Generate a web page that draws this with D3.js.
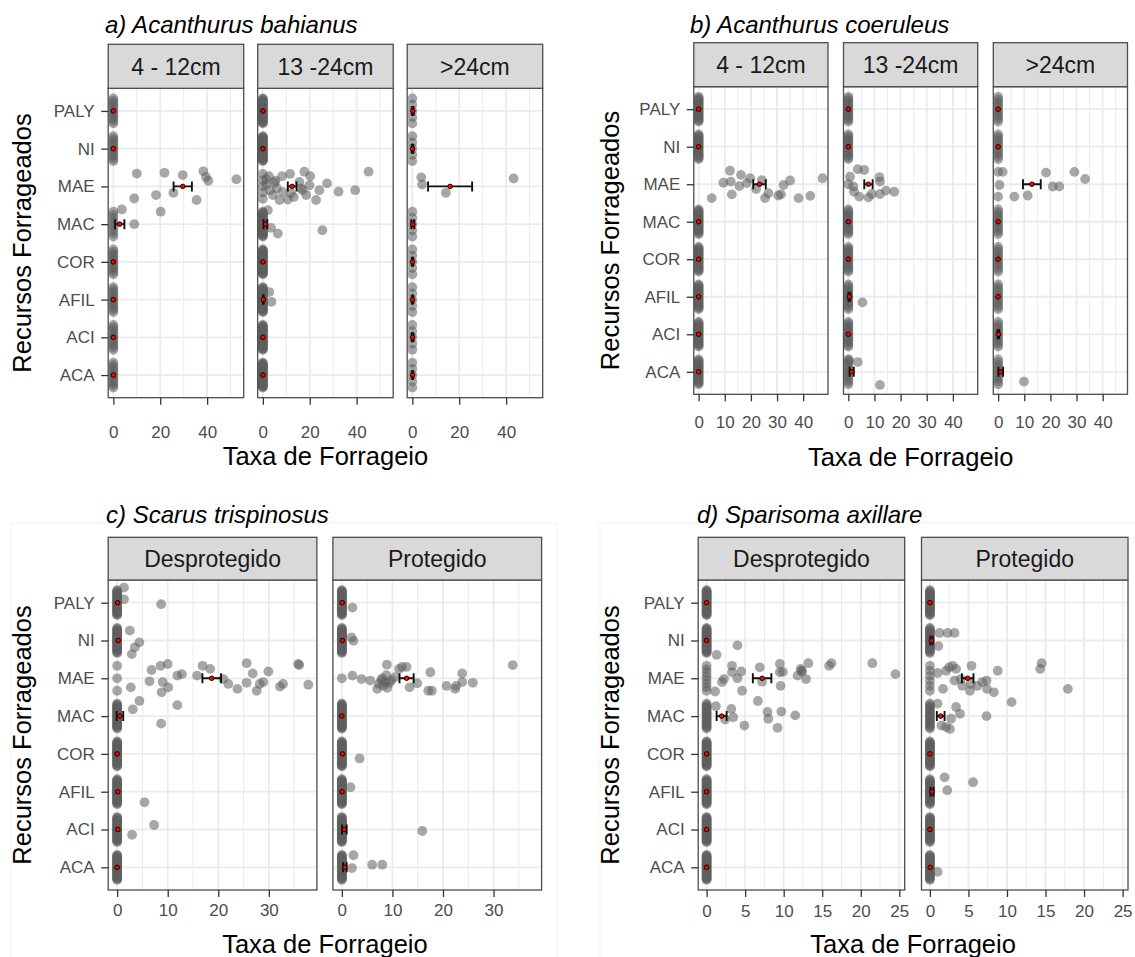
<!DOCTYPE html>
<html>
<head>
<meta charset="utf-8">
<script src="https://cdn.jsdelivr.net/npm/d3@7"></script>
<style>
  body { margin: 0; background: #fff; }
  svg { display: block; }
  text { font-family: "Liberation Sans", Arial, Helvetica, sans-serif; }
</style>
</head>
<body>
<script>
// Foraged resources, bottom to top on the y axis
const resources = ["ACA", "ACI", "AFIL", "COR", "MAC", "MAE", "NI", "PALY"];

const xAxisTitle = "Taxa de Forrageio";
const yAxisTitle = "Recursos Forrageados";

// ---------- a) Acanthurus bahianus ----------
const bahianusSizes = ["4 - 12cm", "13 -24cm", ">24cm"];
const bahianusTicks = [0, 20, 40];
// number of zero-rate observations per resource (ACA..PALY), per size class
const bahianusZeros = [
  [12, 12, 12, 12, 9, 0, 12, 12],
  [33, 33, 31, 33, 29, 5, 33, 33],
  [5, 5, 5, 5, 5, 0, 5, 5]
];
// non-zero observations: [resource, rate, vertical jitter (fraction of a row)]
const bahianusPoints = [
  [
    ["MAE", 10.0, .34], ["MAE", 21.8, .36], ["MAE", 29.6, .30], ["MAE", 38.4, .40], ["MAE", 39.5, .25],
    ["MAE", 40.5, .15], ["MAE", 52.5, .19], ["MAE", 25.6, -.17], ["MAE", 18.2, -.23], ["MAE", 8.9, -.32],
    ["MAE", 35.5, -.36],
    ["MAC", 3.6, .39], ["MAC", 8.9, 0], ["MAC", 20.2, .33]
  ],
  [
    ["MAE", 2.6, .27], ["MAE", 5.4, .15], ["MAE", 8.2, .27], ["MAE", 11.6, .33], ["MAE", 15.6, .12],
    ["MAE", 17.7, .39], ["MAE", 20.2, .27], ["MAE", 45.1, .39], ["MAE", 27.4, .08], ["MAE", 19.9, .03],
    ["MAE", 24.1, -.10], ["MAE", 32.3, -.14], ["MAE", 39.4, -.10], ["MAE", 22.7, -.36], ["MAE", 18.5, -.23],
    ["MAE", 13.2, -.28], ["MAE", 10.6, -.35], ["MAE", 7.1, -.36], ["MAE", 4.3, -.23], ["MAE", 2.9, -.10],
    ["MAE", 1.5, .05], ["MAE", 1.4, .19], ["MAE", 6.0, -.05], ["MAE", 8.5, -.15], ["MAE", 16.3, -.05],
    ["MAE", 12.0, -.18], ["MAE", 17.0, -.10], ["MAE", 5.0, .10],
    ["MAC", 2.1, .37], ["MAC", 6.4, -.25], ["MAC", 25.4, -.16], ["MAC", 3.5, -.10],
    ["AFIL", 2.7, .20], ["AFIL", 3.7, -.06]
  ],
  [
    ["MAE", 3.8, .24], ["MAE", 4.2, .05], ["MAE", 14.3, -.17], ["MAE", 43.2, .21]
  ]
];
const bahianusMean = [
  [0, 0, 0, 0, 2.7, 29.6, 0, 0],
  [0, 0, 0.2, 0, 1.1, 12.5, 0, 0],
  [0.1, 0.1, 0.1, 0.1, 0.2, 16.1, 0.1, 0.2]
];
const bahianusSE = [
  [0, 0, 0, 0, 2.0, 3.9, 0, 0],
  [0, 0, 0.15, 0, 0.8, 1.85, 0, 0],
  [0.15, 0.3, 0.2, 0.2, 0.6, 9.4, 0.25, 0.25]
];

// ---------- b) Acanthurus coeruleus ----------
const coeruleusSizes = ["4 - 12cm", "13 -24cm", ">24cm"];
const coeruleusTicks = [0, 10, 20, 30, 40];
const coeruleusZeros = [
  [20, 20, 20, 20, 20, 0, 20, 20],
  [11, 14, 13, 14, 14, 1, 14, 14],
  [10, 11, 11, 11, 11, 2, 11, 11]
];
const coeruleusPoints = [
  [
    ["MAE", 12.0, .36], ["MAE", 16.2, .25], ["MAE", 19.7, .16], ["MAE", 9.5, .04], ["MAE", 12.3, .07],
    ["MAE", 15.6, -.05], ["MAE", 18.4, .03], ["MAE", 22.0, -.13], ["MAE", 24.2, .11], ["MAE", 26.7, -.24],
    ["MAE", 25.4, -.37], ["MAE", 30.5, -.30], ["MAE", 31.5, -.27], ["MAE", 32.5, -.02], ["MAE", 35.0, .10],
    ["MAE", 38.2, -.37], ["MAE", 42.7, -.31], ["MAE", 47.4, .16], ["MAE", 5.0, -.37], ["MAE", 12.7, -.27]
  ],
  [
    ["MAE", 0.65, .20], ["MAE", 3.6, .40], ["MAE", 6.1, .38], ["MAE", 11.9, .19], ["MAE", 12.1, .07],
    ["MAE", 1.9, -.06], ["MAE", 2.2, -.20], ["MAE", 4.2, -.33], ["MAE", 7.7, -.35], ["MAE", 9.0, -.26],
    ["MAE", 12.1, -.26], ["MAE", 14.4, -.17], ["MAE", 17.6, -.20],
    ["AFIL", 5.4, -.15],
    ["ACA", 0.3, .31], ["ACA", 3.6, .26], ["ACA", 12.1, -.35]
  ],
  [
    ["MAE", 1.75, .33], ["MAE", 0.5, -.02], ["MAE", 6.2, -.33], ["MAE", 11.3, -.30], ["MAE", 18.3, .31],
    ["MAE", 20.9, -.06], ["MAE", 23.4, -.06], ["MAE", 29.2, .33], ["MAE", 33.3, .14],
    ["ACA", 9.9, -.26]
  ]
];
const coeruleusMean = [
  [0, 0, 0, 0, 0, 23.3, 0, 0],
  [1.3, 0, 0.4, 0, 0, 7.7, 0, 0],
  [1.0, 0.1, 0, 0, 0, 12.9, 0, 0]
];
const coeruleusSE = [
  [0, 0, 0, 0, 0, 2.4, 0, 0],
  [0.8, 0, 0.35, 0, 0, 1.6, 0, 0],
  [0.9, 0.3, 0, 0, 0, 3.4, 0, 0]
];

// ---------- c) Scarus trispinosus ----------
const trispinosusSites = ["Desprotegido", "Protegido"];
const trispinosusTicks = [0, 10, 20, 30];
const trispinosusZeros = [
  [31, 29, 30, 31, 27, 3, 27, 28],
  [30, 33, 33, 33, 34, 1, 32, 33]
];
const trispinosusPoints = [
  [
    ["PALY", 1.35, .40], ["PALY", 1.35, .09], ["PALY", 8.7, -.04],
    ["NI", 2.5, .26], ["NI", 4.4, -.05], ["NI", 3.5, -.18], ["NI", 2.9, -.36],
    ["MAE", 2.7, -.24], ["MAE", 6.4, -.08], ["MAE", 6.8, .22], ["MAE", 8.6, .33], ["MAE", 10.0, .38],
    ["MAE", 9.0, -.10], ["MAE", 8.8, -.37], ["MAE", 10.1, -.24], ["MAE", 11.9, .07], ["MAE", 12.8, .11],
    ["MAE", 15.8, .07], ["MAE", 16.9, .33], ["MAE", 18.4, .25], ["MAE", 21.0, -.02], ["MAE", 22.0, -.15],
    ["MAE", 23.8, -.28], ["MAE", 25.6, .40], ["MAE", 25.6, -.12], ["MAE", 26.8, .13], ["MAE", 27.6, -.33],
    ["MAE", 28.2, -.15], ["MAE", 28.9, -.10], ["MAE", 29.9, .18], ["MAE", 32.2, -.22], ["MAE", 32.8, -.15],
    ["MAE", 35.8, .38], ["MAE", 36.0, .35], ["MAE", 37.8, -.17],
    ["MAC", 11.9, .29], ["MAC", 4.4, .40], ["MAC", 3.1, .18], ["MAC", 8.7, -.20],
    ["AFIL", 5.4, -.28],
    ["ACI", 7.3, .12], ["ACI", 2.95, -.14]
  ],
  [
    ["PALY", 2.1, -.13],
    ["NI", 1.9, .08], ["NI", 2.3, -.01],
    ["MAE", 2.1, .07], ["MAE", 3.9, -.02], ["MAE", 5.6, -.06], ["MAE", 7.3, -.15], ["MAE", 7.8, -.05],
    ["MAE", 8.2, -.20], ["MAE", 8.6, -.10], ["MAE", 9.0, -.25], ["MAE", 9.4, -.12], ["MAE", 9.8, -.05],
    ["MAE", 8.0, 0], ["MAE", 7.0, -.28], ["MAE", 8.8, .08], ["MAE", 8.9, .36], ["MAE", 11.3, .25],
    ["MAE", 11.9, .30], ["MAE", 12.8, .30], ["MAE", 10.5, .03], ["MAE", 13.4, -.24], ["MAE", 14.9, -.13],
    ["MAE", 17.5, .16], ["MAE", 17.1, -.33], ["MAE", 17.8, -.33], ["MAE", 20.7, -.20], ["MAE", 22.4, -.28],
    ["MAE", 22.6, -.20], ["MAE", 23.8, .13], ["MAE", 23.8, -.10], ["MAE", 25.9, -.12], ["MAE", 33.8, .35],
    ["COR", 3.5, -.12],
    ["AFIL", 1.7, .12],
    ["ACI", 15.9, -.04],
    ["ACA", 2.3, .32], ["ACA", 6.0, .07], ["ACA", 8.0, .07], ["ACA", 2.0, -.02]
  ]
];
const trispinosusMean = [
  [0, 0.14, 0.15, 0, 0.55, 18.7, 0.2, 0.1],
  [0.6, 0.5, 0.05, 0.1, 0, 12.8, 0.1, 0.06]
];
const trispinosusSE = [
  [0, 0, 0, 0, 0.65, 1.85, 0, 0],
  [0.35, 0.45, 0, 0, 0, 1.4, 0, 0]
];

// ---------- d) Sparisoma axillare ----------
const axillareSites = ["Desprotegido", "Protegido"];
const axillareTicks = [0, 5, 10, 15, 20, 25];
const axillareZeros = [
  [32, 32, 32, 32, 21, 8, 30, 32],
  [26, 27, 24, 27, 18, 6, 23, 27]
];
const axillarePoints = [
  [
    ["NI", 1.3, -.38], ["NI", 4.0, -.13],
    ["MAE", 3.3, .33], ["MAE", 3.3, .16], ["MAE", 4.5, .18], ["MAE", 4.0, 0], ["MAE", 2.0, -.10],
    ["MAE", 2.25, -.02], ["MAE", 1.1, -.35], ["MAE", 4.6, -.33], ["MAE", 6.9, .29], ["MAE", 7.2, -.09],
    ["MAE", 9.5, .38], ["MAE", 9.5, .16], ["MAE", 9.9, .17], ["MAE", 9.6, -.20], ["MAE", 12.2, .25],
    ["MAE", 12.3, .20], ["MAE", 12.4, .18], ["MAE", 13.2, .40], ["MAE", 11.8, .07], ["MAE", 12.9, -.02],
    ["MAE", 15.9, .33], ["MAE", 16.2, .40], ["MAE", 21.5, .40], ["MAE", 24.5, .11],
    ["MAC", 1.2, .26], ["MAC", 3.2, .19], ["MAC", 3.45, -.03], ["MAC", 2.4, -.09], ["MAC", 4.9, -.25],
    ["MAC", 6.65, .40], ["MAC", 7.9, .11], ["MAC", 8.0, -.07], ["MAC", 9.2, -.31], ["MAC", 9.7, .12],
    ["MAC", 11.5, .02]
  ],
  [
    ["NI", 1.25, .20], ["NI", 2.3, .20], ["NI", 3.2, .20], ["NI", 1.1, -.15],
    ["MAE", 1.0, .14], ["MAE", 1.7, -.28], ["MAE", 2.1, .20], ["MAE", 2.5, .29], ["MAE", 2.95, .33],
    ["MAE", 3.4, .25], ["MAE", 3.2, -.06], ["MAE", 4.0, -.02], ["MAE", 4.2, -.20], ["MAE", 5.4, .33],
    ["MAE", 5.2, -.33], ["MAE", 5.3, -.15], ["MAE", 6.15, -.20], ["MAE", 6.8, -.10], ["MAE", 7.35, -.06],
    ["MAE", 7.4, -.28], ["MAE", 8.3, -.37], ["MAE", 8.8, .20], ["MAE", 14.3, .25], ["MAE", 14.5, .40],
    ["MAE", 17.9, -.28],
    ["MAC", 10.6, .37], ["MAC", 1.0, .33], ["MAC", 3.4, .24], ["MAC", 3.9, .06], ["MAC", 2.75, -.07],
    ["MAC", 7.35, 0], ["MAC", 1.5, -.25], ["MAC", 2.1, -.29], ["MAC", 2.6, -.34],
    ["AFIL", 1.9, .38], ["AFIL", 5.6, .25], ["AFIL", 2.25, .04],
    ["ACA", 1.0, -.12]
  ]
];
const axillareMean = [
  [0, 0, 0, 0, 1.95, 7.2, 0, 0],
  [0.04, 0, 0.27, 0, 1.4, 4.9, 0.2, 0]
];
const axillareSE = [
  [0, 0, 0, 0, 0.65, 1.2, 0, 0],
  [0, 0, 0.2, 0, 0.5, 0.75, 0.15, 0]
];

// ---------- drawing ----------
const W = 1135, H = 957;
const svg = d3.select("body").append("svg").attr("width", W).attr("height", H);
const defs = svg.append("defs");

const POINT_FILL = "#5e5e5e", POINT_ALPHA = 0.55, POINT_R = 4.9;
const FRAME = "#4d4d4d";
const GRID = "#ebebeb";
const TICK_FONT = 17;

// faint frames behind the two lower figures
svg.append("rect").attr("x", 11).attr("y", 523).attr("width", 546).attr("height", 440)
  .attr("fill", "none").attr("stroke", "#f1f1f1").attr("stroke-width", 1);
svg.append("rect").attr("x", 600).attr("y", 523).attr("width", 540).attr("height", 440)
  .attr("fill", "none").attr("stroke", "#f1f1f1").attr("stroke-width", 1);

function drawPanel(cfg) {
  const g = svg.append("g");
  const rows = resources.slice().reverse(); // PALY on top
  const y = d3.scalePoint().domain(rows).range([cfg.top, cfg.bottom]).padding(0.6);
  const step = y.step();

  g.append("text")
    .attr("x", cfg.titleX).attr("y", cfg.titleY)
    .attr("font-size", 24).attr("font-style", "italic").attr("fill", "#000")
    .text(cfg.title);

  const lastRight = cfg.lefts[cfg.lefts.length - 1] + cfg.width;
  const majorStep = cfg.ticks[1] - cfg.ticks[0];
  const minors = [cfg.ticks[0] - majorStep / 2].concat(cfg.ticks.map(t => t + majorStep / 2))
    .filter(v => v > cfg.domain[0] && v < cfg.domain[1]);

  cfg.facets.forEach((fname, fi) => {
    const left = cfg.lefts[fi], right = left + cfg.width;
    const x = d3.scaleLinear().domain(cfg.domain).range([left, right]);
    const fg = g.append("g");

    // panel background and grid
    fg.append("rect").attr("x", left).attr("y", cfg.top)
      .attr("width", cfg.width).attr("height", cfg.bottom - cfg.top).attr("fill", "#fff");
    fg.selectAll("line.minor").data(minors).join("line")
      .attr("x1", d => x(d)).attr("x2", d => x(d))
      .attr("y1", cfg.top).attr("y2", cfg.bottom)
      .attr("stroke", GRID).attr("stroke-width", 1.0);
    fg.selectAll("line.majorx").data(cfg.ticks).join("line")
      .attr("x1", d => x(d)).attr("x2", d => x(d))
      .attr("y1", cfg.top).attr("y2", cfg.bottom)
      .attr("stroke", GRID).attr("stroke-width", 1.8);
    fg.selectAll("line.majory").data(rows).join("line")
      .attr("x1", left).attr("x2", right)
      .attr("y1", d => y(d)).attr("y2", d => y(d))
      .attr("stroke", GRID).attr("stroke-width", 1.8);

    const clipId = `clip-${cfg.key}-${fi}`;
    defs.append("clipPath").attr("id", clipId).append("rect")
      .attr("x", left).attr("y", cfg.top).attr("width", cfg.width).attr("height", cfg.bottom - cfg.top);
    const pg = fg.append("g").attr("clip-path", `url(#${clipId})`);

    // observations: zero rates stacked along the row, then the non-zero ones
    const obs = [];
    resources.forEach((r, ri) => {
      const k = cfg.zeros[fi][ri];
      for (let i = 0; i < k; i++) {
        obs.push({ r, v: 0, j: k === 1 ? 0 : -0.33 + 0.66 * i / (k - 1) });
      }
    });
    cfg.points[fi].forEach(([r, v, j]) => obs.push({ r, v, j }));

    pg.selectAll("circle.obs").data(obs).join("circle")
      .attr("cx", d => x(d.v))
      .attr("cy", d => y(d.r) - d.j * step)
      .attr("r", POINT_R)
      .attr("fill", POINT_FILL).attr("fill-opacity", POINT_ALPHA);

    // mean ± SE
    const summary = resources.map((r, ri) => ({ r, m: cfg.mean[fi][ri], se: cfg.se[fi][ri] }));
    const withErr = summary.filter(d => d.se > 0);
    const eg = pg.append("g").attr("stroke", "#111").attr("stroke-width", 1.9);
    eg.selectAll("line.bar").data(withErr).join("line")
      .attr("x1", d => x(d.m - d.se)).attr("x2", d => x(d.m + d.se))
      .attr("y1", d => y(d.r)).attr("y2", d => y(d.r));
    eg.selectAll("line.capl").data(withErr).join("line")
      .attr("x1", d => x(d.m - d.se)).attr("x2", d => x(d.m - d.se))
      .attr("y1", d => y(d.r) - 5).attr("y2", d => y(d.r) + 5);
    eg.selectAll("line.capr").data(withErr).join("line")
      .attr("x1", d => x(d.m + d.se)).attr("x2", d => x(d.m + d.se))
      .attr("y1", d => y(d.r) - 5).attr("y2", d => y(d.r) + 5);
    pg.selectAll("circle.mean").data(summary).join("circle")
      .attr("cx", d => x(d.m)).attr("cy", d => y(d.r))
      .attr("r", 2.3).attr("fill", "#ff0000")
      .attr("stroke", "#000").attr("stroke-width", 0.9);

    // panel frame
    fg.append("rect").attr("x", left).attr("y", cfg.top)
      .attr("width", cfg.width).attr("height", cfg.bottom - cfg.top)
      .attr("fill", "none").attr("stroke", FRAME).attr("stroke-width", 1.3);

    // strip
    fg.append("rect").attr("x", left).attr("y", cfg.stripTop)
      .attr("width", cfg.width).attr("height", cfg.top - cfg.stripTop)
      .attr("fill", "#d9d9d9").attr("stroke", FRAME).attr("stroke-width", 1.3);
    fg.append("text")
      .attr("x", (left + right) / 2).attr("y", (cfg.stripTop + cfg.top) / 2)
      .attr("dy", "0.36em").attr("text-anchor", "middle")
      .attr("font-size", 23).attr("fill", "#1a1a1a")
      .text(fname);

    // x axis
    const xAxis = d3.axisBottom(x).tickValues(cfg.ticks).tickSize(7)
      .tickPadding(cfg.tickPad).tickFormat(d3.format("d"));
    fg.append("g").attr("transform", `translate(0,${cfg.bottom})`).call(xAxis)
      .call(s => {
        s.attr("font-size", null).attr("font-family", null);
        s.select(".domain").remove();
        s.selectAll(".tick line").attr("stroke", "#333").attr("stroke-width", 1.3);
        s.selectAll(".tick text").attr("font-size", TICK_FONT).attr("fill", "#4d4d4d");
      });

    // y axis on the first facet only
    if (fi === 0) {
      const yAxis = d3.axisLeft(y).tickSize(7).tickPadding(6.5);
      fg.append("g").attr("transform", `translate(${left},0)`).call(yAxis)
        .call(s => {
          s.attr("font-size", null).attr("font-family", null);
          s.select(".domain").remove();
          s.selectAll(".tick line").attr("stroke", "#333").attr("stroke-width", 1.3);
          s.selectAll(".tick text").attr("font-size", TICK_FONT).attr("fill", "#4d4d4d");
        });
    }
  });

  // axis titles
  g.append("text")
    .attr("x", (cfg.lefts[0] + lastRight) / 2).attr("y", cfg.xTitleY)
    .attr("text-anchor", "middle").attr("font-size", 25.5).attr("fill", "#000")
    .text(xAxisTitle);
  g.append("text")
    .attr("transform", `translate(${cfg.yTitleX},${(cfg.top + cfg.bottom) / 2}) rotate(-90)`)
    .attr("text-anchor", "middle").attr("dy", "0.36em")
    .attr("font-size", 25.5).attr("fill", "#000")
    .text(yAxisTitle);
}

drawPanel({
  key: "a", title: "a) Acanthurus bahianus", titleX: 105, titleY: 33,
  facets: bahianusSizes, ticks: bahianusTicks,
  zeros: bahianusZeros, points: bahianusPoints, mean: bahianusMean, se: bahianusSE,
  domain: [-2.2, 55.6], lefts: [108.2, 257.7, 407.2], width: 135.5,
  stripTop: 44.3, top: 88.3, bottom: 397.7, tickPad: 21, xTitleY: 465, yTitleX: 22
});
drawPanel({
  key: "b", title: "b) Acanthurus coeruleus", titleX: 690, titleY: 33,
  facets: coeruleusSizes, ticks: coeruleusTicks,
  zeros: coeruleusZeros, points: coeruleusPoints, mean: coeruleusMean, se: coeruleusSE,
  domain: [-1.85, 49.5], lefts: [693.8, 843.5, 993.3], width: 134.2,
  stripTop: 42.7, top: 86.7, bottom: 394.3, tickPad: 14.5, xTitleY: 466, yTitleX: 610
});
drawPanel({
  key: "c", title: "c) Scarus trispinosus", titleX: 106, titleY: 523,
  facets: trispinosusSites, ticks: trispinosusTicks,
  zeros: trispinosusZeros, points: trispinosusPoints, mean: trispinosusMean, se: trispinosusSE,
  domain: [-1.77, 39.5], lefts: [108.2, 332.9], width: 208.7,
  stripTop: 537.3, top: 580, bottom: 890, tickPad: 7.3, xTitleY: 953, yTitleX: 22
});
drawPanel({
  key: "d", title: "d) Sparisoma axillare", titleX: 697, titleY: 523,
  facets: axillareSites, ticks: axillareTicks,
  zeros: axillareZeros, points: axillarePoints, mean: axillareMean, se: axillareSE,
  domain: [-1.09, 25.7], lefts: [698.2, 921.5], width: 206.5,
  stripTop: 537.3, top: 580, bottom: 890, tickPad: 8, xTitleY: 953, yTitleX: 610
});
</script>
</body>
</html>
